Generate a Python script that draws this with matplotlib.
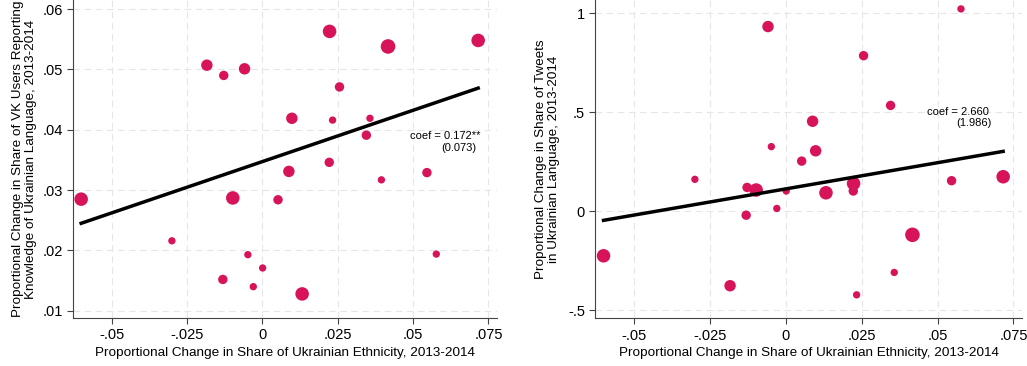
import matplotlib.pyplot as plt
import numpy as np

plt.rcParams['font.family'] = ['Liberation Sans', 'DejaVu Sans']

# change in share of Ukrainian ethnicity (x), per region
eth = [-0.0601, -0.0300, -0.0184, -0.0128, -0.0131, -0.0098, -0.0059, -0.0048,
       -0.0030, 0.0001, 0.0052, 0.0088, 0.0098, 0.0132, 0.0222, 0.0223,
       0.0233, 0.0256, 0.0345, 0.0357, 0.0395, 0.0417, 0.0546, 0.0577, 0.0716]
# VK users reporting knowledge of Ukrainian
vk = [0.0285, 0.0216, 0.0507, 0.0490, 0.0152, 0.0287, 0.0501, 0.0193,
      0.0140, 0.0171, 0.0284, 0.0331, 0.0419, 0.0128, 0.0346, 0.0563,
      0.0416, 0.0471, 0.0391, 0.0419, 0.0317, 0.0538, 0.0329, 0.0194, 0.0548]
# share of tweets in Ukrainian (None = no data)
tw = [-0.224, 0.162, -0.375, 0.121, -0.019, 0.108, 0.933, 0.327,
      0.015, 0.103, 0.254, 0.455, 0.306, 0.094, 0.103, 0.141,
      -0.421, 0.786, 0.535, -0.308, None, -0.118, 0.155, 1.022, 0.175]
# marker weight (area)
wt = [95, 28, 68, 46, 46, 95, 68, 28,
      28, 28, 46, 68, 68, 95, 46, 95,
      28, 46, 46, 28, 28, 110, 46, 28, 95]

fit_x = [-0.0601, 0.0716]
fit_vk = [0.0245, 0.0469]
fit_tw = [-0.045, 0.303]

red = '#D7145A'
fs = 9.7
fig = plt.figure(figsize=(10.27, 3.66), dpi=100)
ax1 = fig.add_axes([0.0711, 0.131, 0.413, 0.869])
ax2 = fig.add_axes([0.5797, 0.130, 0.4157, 0.870])

def style(ax):
    for s in ['top', 'right']:
        ax.spines[s].set_visible(False)
    for s in ['left', 'bottom']:
        ax.spines[s].set_color('#444444')
    ax.grid(True, color='#e6e6e6', linestyle=(0, (6, 4)), linewidth=0.8)
    ax.set_axisbelow(True)
    ax.tick_params(direction='out', length=4, color='#444444', labelsize=10.5)
    ax.set_xticks([-0.05, -0.025, 0, 0.025, 0.05, 0.075])
    ax.set_xticklabels(['-.05', '-.025', '0', '.025', '.05', '.075'])
    ax.set_xlim(-0.0628, 0.0779)
    ax.set_xlabel('Proportional Change in Share of Ukrainian Ethnicity, 2013-2014',
                  fontsize=fs, labelpad=3)

ax1.scatter(eth, vk, s=wt, color=red, edgecolors='none', zorder=3)
ax1.plot(fit_x, fit_vk, color='black', lw=2.5, zorder=4)
style(ax1)
ax1.set_yticks([0.01, 0.02, 0.03, 0.04, 0.05, 0.06])
ax1.set_yticklabels(['.01', '.02', '.03', '.04', '.05', '.06'])
ax1.set_ylim(0.0088, 0.0615)
ax1.set_ylabel('Proportional Change in Share of VK Users Reporting\nKnowledge of Ukrainian Language, 2013-2014',
               fontsize=fs, labelpad=4, linespacing=1.1)
ax1.text(0.0725, 0.0390, 'coef = 0.172**', ha='right', va='center', fontsize=8)
ax1.text(0.0710, 0.0370, '(0.073)', ha='right', va='center', fontsize=8)

tx = [x for x, y in zip(eth, tw) if y is not None]
ty = [y for y in tw if y is not None]
tw_wt = [w for w, y in zip(wt, tw) if y is not None]
ax2.scatter(tx, ty, s=tw_wt, color=red, edgecolors='none', zorder=3)
ax2.plot(fit_x, fit_tw, color='black', lw=2.5, zorder=4)
style(ax2)
ax2.set_yticks([-0.5, 0, 0.5, 1])
ax2.set_yticklabels(['-.5', '0', '.5', '1'])
ax2.set_ylim(-0.540, 1.067)
ax2.set_ylabel('Proportional Change in Share of Tweets\nin Ukrainian Language, 2013-2014',
               fontsize=fs, labelpad=6, linespacing=1.1)
ax2.text(0.0668, 0.500, 'coef = 2.660', ha='right', va='center', fontsize=8)
ax2.text(0.0677, 0.448, '(1.986)', ha='right', va='center', fontsize=8)

fig.savefig('out.png', dpi=100)
